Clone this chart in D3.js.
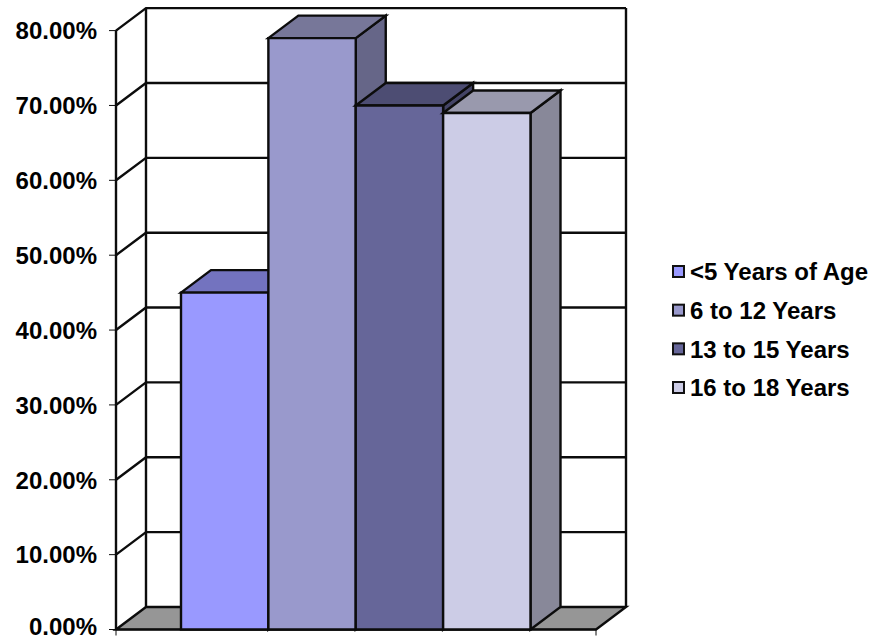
<!DOCTYPE html>
<html><head><meta charset="utf-8">
<script src="https://cdnjs.cloudflare.com/ajax/libs/d3/7.8.5/d3.min.js"></script>
<style>html,body{margin:0;padding:0;background:#fff}svg{display:block}
text{font-family:"Liberation Sans",Arial,sans-serif;font-weight:bold;fill:#000}</style>
</head><body><svg id="c" width="872" height="641"></svg>
<script>
const categories = ["<5 Years of Age","6 to 12 Years","13 to 15 Years","16 to 18 Years"];
const values = [45,79,70,69];
const tickValues = [0,10,20,30,40,50,60,70,80];
const frontColors = ["#9999FF","#9999CC","#666699","#CCCCE6"];
const topColors = ["#7373BF","#777799","#4D4D73","#9999AD"];
const sideColors = ["#6666AA","#666688","#444466","#888899"];

const svg = d3.select("#c");
const left=116, right=596, dx=30, dy=-22.5;
const y = d3.scaleLinear().domain([0,80]).range([629.5,30.6]);
const xOuter = d3.scaleLinear().domain([0,1]).range([left,right]);
const x = d3.scaleBand().domain(categories).range([181,530.5]).padding(0);
const line = d3.line();
const ink = {stroke:"#0c0c0c","stroke-width":2.4};
function poly(pts,fill,w){
  return svg.append("path").attr("d",line(pts)+"Z").attr("fill",fill)
    .attr("stroke",ink.stroke).attr("stroke-width",w||ink["stroke-width"]);
}
function seg(pts,w){
  return svg.append("path").attr("d",line(pts)).attr("fill","none")
    .attr("stroke",ink.stroke).attr("stroke-width",w||ink["stroke-width"]);
}
const x0=xOuter(0), x1=xOuter(1), top80=y(80), base=y(0);
// floor
poly([[x0,base],[x0+dx,base+dy],[x1+dx,base+dy],[x1,base]],"#969696");
// walls and gridlines
tickValues.forEach(v=>{
  if(v>0) seg([[x0,y(v)],[x0+dx,y(v)+dy],[x1+dx,y(v)+dy]]);
});
seg([[x0+dx,base+dy],[x0+dx,top80+dy]]);
seg([[x1+dx,base+dy],[x1+dx,top80+dy]]);
seg([[x0,base],[x0,top80]]);
// axes ticks
tickValues.forEach(v=>{
  seg([[x0-7,y(v)],[x0,y(v)]],1);
  svg.append("text").attr("x",97).attr("y",Math.min(y(v)+2.5,629)).attr("text-anchor","end")
    .attr("dominant-baseline","middle").attr("font-size",24).text(d3.format(".2f")(v)+"%");
});
seg([[x0,base],[x1,base]],1.5);
seg([[x0,base],[x0,base+6]],1);
seg([[x1,base],[x1,base+6]],1);
// bars
categories.forEach((c,i)=>{
  const a=x(c), b=a+x.bandwidth(), t=y(values[i]);
  poly([[b,base],[b+dx,base+dy],[b+dx,t+dy],[b,t]],sideColors[i]);
  poly([[a,t],[a+dx,t+dy],[b+dx,t+dy],[b,t]],topColors[i]);
  poly([[a,base],[a,t],[b,t],[b,base]],frontColors[i]);
});
// legend
const legendY = d3.scalePoint().domain(categories).range([272,388]);
categories.forEach((c,i)=>{
  const cy=legendY(c);
  svg.append("rect").attr("x",673).attr("y",cy-6).attr("width",11).attr("height",11)
    .attr("fill",frontColors[i]).attr("stroke","#111").attr("stroke-width",2);
  svg.append("text").attr("x",690).attr("y",cy+2).attr("dominant-baseline","middle")
    .attr("font-size",24).text(c);
});
</script></body></html>
